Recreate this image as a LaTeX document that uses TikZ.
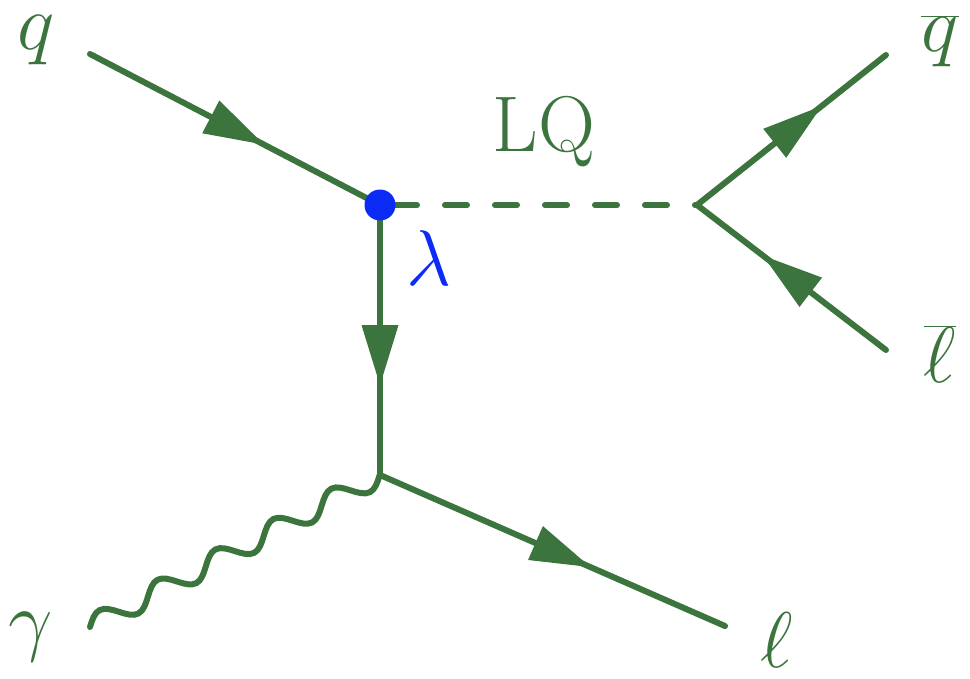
\documentclass[tikz,border=0pt]{standalone}
\usepackage{fix-cm}
\usepackage{tikz}
\usetikzlibrary{arrows.meta,decorations.markings}
\definecolor{lqgreen}{RGB}{60,116,62}
\definecolor{lqblue}{RGB}{12,44,246}
% full sine periods, starting and ending on the line
\pgfdeclaredecoration{photonwave}{initial}{
  \state{initial}[width=+\pgfdecorationsegmentlength]{
    \pgfpathsine{\pgfqpoint{.25\pgfdecorationsegmentlength}{\pgfdecorationsegmentamplitude}}
    \pgfpathcosine{\pgfqpoint{.25\pgfdecorationsegmentlength}{-\pgfdecorationsegmentamplitude}}
    \pgfpathsine{\pgfqpoint{.25\pgfdecorationsegmentlength}{-\pgfdecorationsegmentamplitude}}
    \pgfpathcosine{\pgfqpoint{.25\pgfdecorationsegmentlength}{\pgfdecorationsegmentamplitude}}
  }
  \state{final}{\pgfpathlineto{\pgfpointdecoratedpathlast}}
}
\tikzset{
  fermion/.style={postaction={decorate,decoration={markings,
    mark=at position #1 with {\arrow{Triangle[length=60pt,width=37pt,line width=0pt]}}}}},
  fermion/.default=0.62,
  scalar/.style={dash pattern=on 22pt off 28pt, dash phase=35pt},
  photon/.style={decorate,decoration={photonwave,amplitude=10.5pt,segment length=65.4pt}},
  vertexdot/.style={circle,fill=lqblue,inner sep=0pt,minimum size=31pt},
  lbl/.style={inner sep=0pt,font=\fontsize{79}{90}\selectfont},
}

\begin{document}
\begin{tikzpicture}[x=1pt,y=-1pt,line width=6pt,line cap=round,color=lqgreen]
\useasboundingbox (0,0) rectangle (970,678);
\coordinate (qin) at (90,54);
\coordinate (gin) at (90,627);
\coordinate (v1) at (380,205);
\coordinate (v2) at (380,475);
\coordinate (v3) at (697,205);
\coordinate (qout) at (886,55);
\coordinate (lout) at (886,350);
\coordinate (lep) at (725,626);
% lines
\draw[fermion=0.6] (qin) -- (v1);
\draw[fermion=0.667] (v1) -- (v2);
\draw[fermion=0.61] (v2) -- (lep);
\draw[photon] (gin) -- (v2);
\draw[scalar] (v1) -- (v3);
\draw[fermion=0.66] (v3) -- (qout);
\draw[fermion=0.65] (lout) -- (v3);
\node[vertexdot] (vdot) at (v1) {};
% labels
\node[lbl] (lq) at (36,40) {$q$};
\node[lbl] (lqbar) at (940,41) {$\overline{q}$};
\node[lbl] (llbar) at (940,354) {$\overline{\ell}$};
\node[lbl] (lgamma) at (31,637) {$\gamma$};
\node[lbl] (llep) at (777,640) {$\ell$};
\node[lbl,text=lqblue] (llambda) at (429,258) {$\lambda$};
\node[lbl] (llq) at (544,132) {LQ};
\end{tikzpicture}
\end{document}
